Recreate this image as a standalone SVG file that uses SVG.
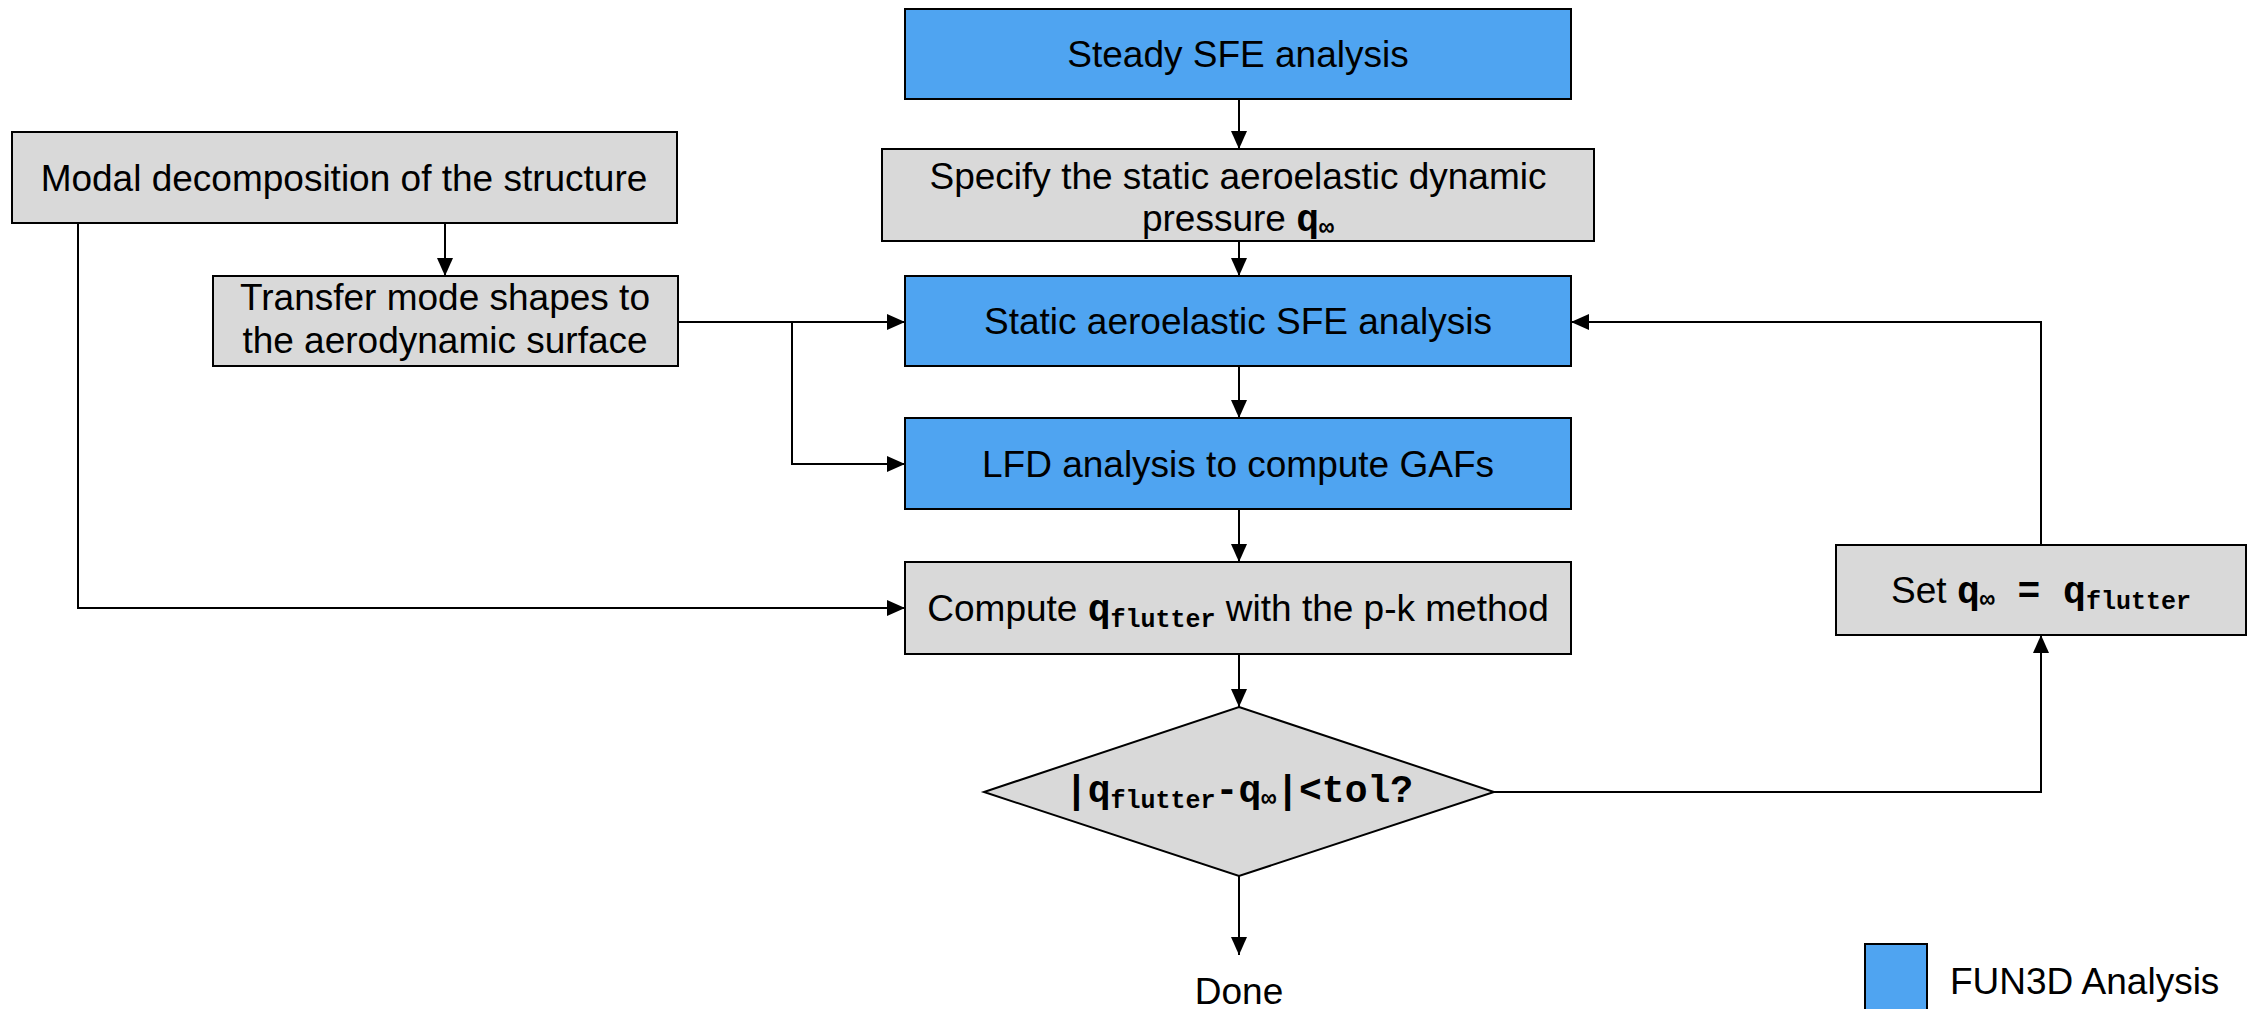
<svg xmlns="http://www.w3.org/2000/svg" width="2253" height="1009" viewBox="0 0 2253 1009">
  <style>
    .box { stroke: #000; stroke-width: 2; }
    .fun3d { fill: #4FA4F1; }
    .plain { fill: #D9D9D9; }
    .lbl { font-family: "Liberation Sans", Arial, sans-serif; font-size: 37px; fill: #000; text-anchor: middle; }
    .m { font-family: "Liberation Mono", "Courier New", monospace; font-weight: bold; font-size: 38px; }
    .ms { font-family: "Liberation Mono", "Courier New", monospace; font-weight: bold; font-size: 25px; }
    .edge { fill: none; stroke: #000; stroke-width: 2; }
  </style>
  <defs>
    <marker id="arrow" markerUnits="userSpaceOnUse" markerWidth="18" markerHeight="16" refX="18" refY="8" orient="auto">
      <path d="M0,0 L18,8 L0,16 Z" fill="#000"/>
    </marker>
  </defs>

  <rect width="2253" height="1009" fill="#fff"/>

  <g id="connectors">
    <path class="edge" d="M1239,99 V149" marker-end="url(#arrow)"/>
    <path class="edge" d="M1239,241 V276" marker-end="url(#arrow)"/>
    <path class="edge" d="M1239,366 V418" marker-end="url(#arrow)"/>
    <path class="edge" d="M1239,509 V562" marker-end="url(#arrow)"/>
    <path class="edge" d="M1239,654 V707" marker-end="url(#arrow)"/>
    <path class="edge" d="M1239,876 V955" marker-end="url(#arrow)"/>
    <path class="edge" d="M445,223 V276" marker-end="url(#arrow)"/>
    <path class="edge" d="M78,223 V608 H905" marker-end="url(#arrow)"/>
    <path class="edge" d="M678,322 H905" marker-end="url(#arrow)"/>
    <path class="edge" d="M792,322 V464 H905" marker-end="url(#arrow)"/>
    <path class="edge" d="M1494,792 H2041 V635" marker-end="url(#arrow)"/>
    <path class="edge" d="M2041,545 V322 H1571" marker-end="url(#arrow)"/>
  </g>

  <g id="steady">
    <rect class="box fun3d" x="905" y="9" width="666" height="90"/>
    <text class="lbl" x="1238" y="67">Steady SFE analysis</text>
  </g>

  <g id="specify">
    <rect class="box plain" x="882" y="149" width="712" height="92"/>
    <text class="lbl" x="1238" y="189">Specify the static aeroelastic dynamic</text>
    <text class="lbl" x="1238" y="231">pressure <tspan class="m">q</tspan><tspan class="ms" dy="4">∞</tspan></text>
  </g>

  <g id="modal">
    <rect class="box plain" x="12" y="132" width="665" height="91"/>
    <text class="lbl" x="344" y="191">Modal decomposition of the structure</text>
  </g>

  <g id="transfer">
    <rect class="box plain" x="213" y="276" width="465" height="90"/>
    <text class="lbl" x="445" y="310">Transfer mode shapes to</text>
    <text class="lbl" x="445" y="353">the aerodynamic surface</text>
  </g>

  <g id="static">
    <rect class="box fun3d" x="905" y="276" width="666" height="90"/>
    <text class="lbl" x="1238" y="334">Static aeroelastic SFE analysis</text>
  </g>

  <g id="lfd">
    <rect class="box fun3d" x="905" y="418" width="666" height="91"/>
    <text class="lbl" x="1238" y="477">LFD analysis to compute GAFs</text>
  </g>

  <g id="compute">
    <rect class="box plain" x="905" y="562" width="666" height="92"/>
    <text class="lbl" x="1238" y="621">Compute <tspan class="m">q</tspan><tspan class="ms" dy="6">flutter</tspan><tspan dy="-6"> with the p-k method</tspan></text>
  </g>

  <g id="check">
    <polygon class="box plain" points="1239,707 1494,792 1239,876 984,792"/>
    <text class="lbl m" x="1239" y="802">|q<tspan class="ms" dy="6">flutter</tspan><tspan dy="-6">-q</tspan><tspan class="ms" dy="4">∞</tspan><tspan dy="-4">|&lt;tol?</tspan></text>
  </g>

  <g id="update">
    <rect class="box plain" x="1836" y="545" width="410" height="90"/>
    <text class="lbl" x="2041" y="603">Set <tspan class="m">q</tspan><tspan class="ms" dy="4">∞</tspan><tspan class="m" dy="-4"> =  q</tspan><tspan class="ms" dy="6">flutter</tspan></text>
  </g>

  <g id="done">
    <text class="lbl" x="1239" y="1004">Done</text>
  </g>

  <g id="legend">
    <rect class="box fun3d" x="1865" y="944" width="62" height="80"/>
    <text class="lbl" x="1950" y="994" style="text-anchor:start">FUN3D Analysis</text>
  </g>
</svg>
